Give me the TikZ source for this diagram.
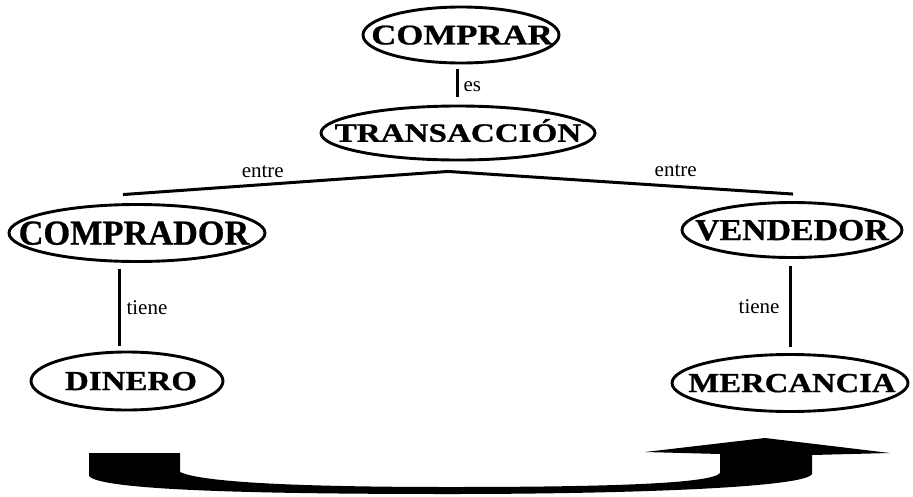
\documentclass[tikz,border=0pt]{standalone}
\usepackage{fontspec}
\setmainfont{Liberation Serif}
\newfontfamily\cfont[BoldFeatures={FakeBold=0.8}]{Liberation Serif}
\usepackage{graphicx}
\usetikzlibrary{shapes.geometric}
\newcommand\cptext[4][0pt]{\makebox[0pt]{\hspace*{#1}\raisebox{-.331\dimexpr#2pt\relax}[0pt][0pt]{\scalebox{#3}[1]{\fontsize{#2}{#2}\selectfont\cfont\bfseries #4}}}}
\begin{document}
\begin{tikzpicture}[x=1pt,y=-1pt,
  concept/.style={draw, ellipse, line width=2.9pt, inner sep=0pt},
  link/.style={line width=3pt},
  lbl/.style={font=\fontsize{21}{21}\selectfont, inner sep=0pt}]
\useasboundingbox (0,0) rectangle (913,496);
% concepts
\node[concept, minimum width=196pt, minimum height=56pt] (comprar) at (461,35) {\cptext[2pt]{28.5}{1.22}{COMPRAR}};
\node[concept, minimum width=274pt, minimum height=54pt] (trans) at (458,133) {\cptext{26.5}{1.25}{TRANSACCIÓN}};
\node[concept, minimum width=256pt, minimum height=57pt] (compr) at (137,233) {\cptext[-6pt]{35}{0.98}{COMPRADOR}};
\node[concept, minimum width=220pt, minimum height=55pt] (vend) at (792,230) {\cptext{30.5}{1.11}{VENDEDOR}};
\node[concept, minimum width=192pt, minimum height=58pt] (din) at (127,381) {\cptext[8pt]{27.5}{1.2}{DINERO}};
\node[concept, minimum width=236pt, minimum height=57pt] (merc) at (790,383) {\cptext[4pt]{27.5}{1.19}{MERCANCIA}};
% connectors
\draw[link] ([xshift=-4pt,yshift=-5pt]comprar.south) coordinate (es1)
  -- node[lbl, pos=0.65, anchor=west, xshift=5pt] (les) {es} ([yshift=8pt]es1 |- trans.north);
\coordinate (j) at ([xshift=-10pt,yshift=-10pt]trans.south);
\coordinate (le) at ([xshift=-14pt,yshift=8.5pt]compr.north);
\coordinate (re) at ([xshift=1pt,yshift=7pt]vend.north);
\draw[link] (j) -- node[lbl, pos=0.57, anchor=south, yshift=5pt] (lent1) {entre} (le);
\draw[link] (j) -- node[lbl, pos=0.66, anchor=south, yshift=8pt] (lent2) {entre} (re);
\draw[link] ([xshift=-18pt,yshift=-6pt]compr.south) coordinate (t1)
  -- node[lbl, pos=0.5, anchor=west, xshift=6pt] (lt1) {tiene} ([yshift=5pt]t1 |- din.north);
\draw[link] ([xshift=-2pt,yshift=-7pt]vend.south) coordinate (t2)
  -- node[lbl, pos=0.5, anchor=east, xshift=-9pt] (lt2) {tiene} ([yshift=6pt]t2 |- merc.north);
% exchange arrow
\fill (89,453) -- (180,453) -- (180,472)
  .. controls (205,484) and (330,487) .. (450,487)
  .. controls (600,487) and (712,484) .. (720,473)
  -- (720,454) -- (645,452) -- (765,438) -- (890,453) -- (812,455) -- (812,474)
  .. controls (805,488) and (620,494) .. (450,494)
  .. controls (250,494) and (100,490) .. (89,476) -- cycle;
\end{tikzpicture}
\end{document}
